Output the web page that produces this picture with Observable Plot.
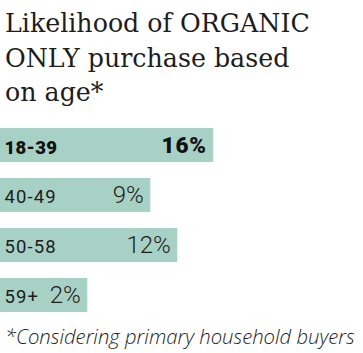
<!DOCTYPE html>
<html>
<head>
<meta charset="utf-8">
<script src="https://cdn.jsdelivr.net/npm/d3@7"></script>
<script src="https://cdn.jsdelivr.net/npm/@observablehq/plot@0.6"></script>
<style>
  html, body { margin: 0; padding: 0; background: #fff; width: 363px; height: 353px; overflow: hidden; position: relative; }
  #title { position: absolute; left: 5px; top: 7px; width: 358px; font-family: "DejaVu Serif", serif; font-size: 25.3px; line-height: 34.5px; color: #1d1d1b; white-space: nowrap; }
  #chart { position: absolute; left: 0; top: 112px; }
  #chart svg > g:nth-of-type(2) text { letter-spacing: 0.3px; }
  #chart svg > g:nth-of-type(3) text { letter-spacing: 1.1px; }
  #chart svg > g:nth-of-type(4) text { letter-spacing: 0.8px; }
  #caption { position: absolute; left: 5px; top: 326px; font-family: "Open Sans", sans-serif; font-style: italic; font-weight: 300; font-size: 20.3px; line-height: 20px; color: #1d1d1b; white-space: nowrap; }
</style>
</head>
<body>
<div id="title">Likelihood of ORGANIC<br>ONLY purchase based<br>on age*</div>
<div id="chart"></div>
<div id="caption">*Considering primary household buyers</div>
<script>
const ages = ["18-39", "40-49", "50-58", "59+"];
const shares = [16, 9, 12, 2];
const highlight = "18-39";

const data = ages.map((age, i) => ({age, share: shares[i]}));
const barColor = "#a8d1c5";
const base = -7.7;
const top1 = data.filter(d => d.age === highlight);
const rest = data.filter(d => d.age !== highlight);

const chart = Plot.plot({
  width: 363,
  height: 216,
  marginTop: 0, marginBottom: 0, marginLeft: 0, marginRight: 0,
  x: {domain: [base, 16.3], range: [0, 216], axis: null},
  y: {domain: ages, padding: 0.32, axis: null},
  style: {fontFamily: "Roboto, sans-serif", color: "#1d1d1b", background: "transparent"},
  marks: [
    Plot.rectX(data, {x1: base, x2: "share", y: "age", fill: barColor}),
    Plot.text(top1, {x: base, y: "age", text: "age", textAnchor: "start", dx: 4, dy: 2.5,
      fontSize: 18.5, fill: "#111", fontWeight: 900}),
    Plot.text(rest, {x: base, y: "age", text: "age", textAnchor: "start", dx: 4, dy: 1.5,
      fontSize: 18.5, fill: "#1d1d1b", fontWeight: "normal"}),
    Plot.text(top1, {x: "share", y: "age", text: d => d.share + "%", textAnchor: "end", dx: -7,
      fontSize: 22.5, fill: "#111", fontWeight: 900}),
    Plot.text(rest, {x: "share", y: "age", text: d => d.share + "%", textAnchor: "end", dx: -7,
      fontSize: 24, fill: "#1d1d1b", fontWeight: 300})
  ]
});
document.getElementById("chart").appendChild(chart);
</script>
</body>
</html>
